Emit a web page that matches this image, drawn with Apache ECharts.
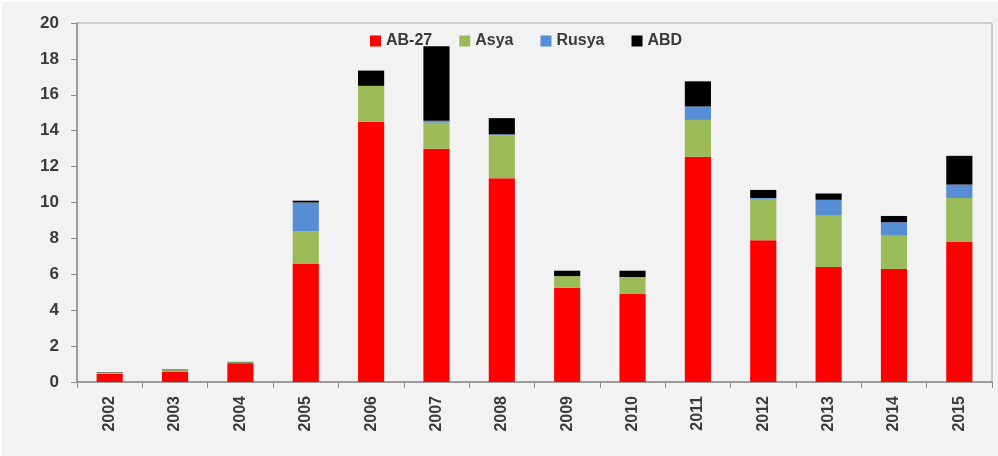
<!DOCTYPE html>
<html>
<head>
<meta charset="utf-8">
<script src="https://cdn.jsdelivr.net/npm/echarts@6/dist/echarts.min.js"></script>
<style>
  html, body { margin: 0; padding: 0; background: #ffffff; }
  #chart { position: absolute; left: 2px; top: 2px; width: 996px; height: 454px; background: #f2f2f2; }
</style>
</head>
<body>
<div id="chart"></div>
<script>
const years = ['2002', '2003', '2004', '2005', '2006', '2007', '2008', '2009', '2010', '2011', '2012', '2013', '2014', '2015']
const ab27 = [0.45, 0.58, 1.05, 6.6, 14.5, 13.0, 11.35, 5.25, 4.9, 12.55, 7.9, 6.4, 6.3, 7.8]
const asya = [0.08, 0.08, 0.05, 1.8, 2.0, 1.45, 2.4, 0.65, 0.95, 2.05, 2.3, 2.9, 1.85, 2.45]
const rusya = [0, 0, 0, 1.6, 0, 0.1, 0.05, 0, 0, 0.75, 0.05, 0.85, 0.75, 0.75]
const abd = [0.02, 0.03, 0.02, 0.1, 0.85, 4.15, 0.9, 0.3, 0.35, 1.4, 0.45, 0.35, 0.35, 1.6]
const yTicks = [0, 2, 4, 6, 8, 10, 12, 14, 16, 18, 20]

const chart = echarts.init(document.getElementById('chart'))

const mkSeries = (name, data, color) => ({
  name,
  type: 'bar',
  stack: 'total',
  data,
  barWidth: '40%',
  itemStyle: { color },
  emphasis: { disabled: true },
})

chart.setOption({
  animation: false,
  textStyle: { fontFamily: 'Liberation Sans, Arial, sans-serif' },
  grid: {
    left: 75,
    right: 6,
    top: 21,
    bottom: 74,
    show: true,
    borderColor: '#a6a6a6',
    borderWidth: 1,
    backgroundColor: 'transparent',
  },
  legend: {
    top: 26,
    left: 363,
    itemWidth: 11,
    itemHeight: 11,
    itemGap: 27,
    icon: 'rect',
    textStyle: { fontSize: 16, fontWeight: 'bold', color: '#3a3a3a' },
  },
  xAxis: {
    type: 'category',
    data: years,
    axisLine: { lineStyle: { color: '#8c8c8c', width: 1.5 } },
    axisTick: { show: true, length: 6, lineStyle: { color: '#8c8c8c' } },
    axisLabel: { rotate: 90, color: '#3a3a3a', fontSize: 16, fontWeight: 'bold', margin: 14 },
  },
  yAxis: {
    type: 'value',
    min: 0,
    max: yTicks[yTicks.length - 1],
    interval: yTicks[1] - yTicks[0],
    splitLine: { show: false },
    axisLine: { show: true, lineStyle: { color: '#8c8c8c', width: 1.5 } },
    axisTick: { show: true, length: 6, lineStyle: { color: '#8c8c8c' } },
    axisLabel: { color: '#3a3a3a', fontSize: 17, fontWeight: 'bold', margin: 18 },
  },
  series: [
    mkSeries('AB-27', ab27, '#ff0000'),
    mkSeries('Asya', asya, '#9bbb59'),
    mkSeries('Rusya', rusya, '#558ed5'),
    mkSeries('ABD', abd, '#000000'),
  ],
})
</script>
</body>
</html>
